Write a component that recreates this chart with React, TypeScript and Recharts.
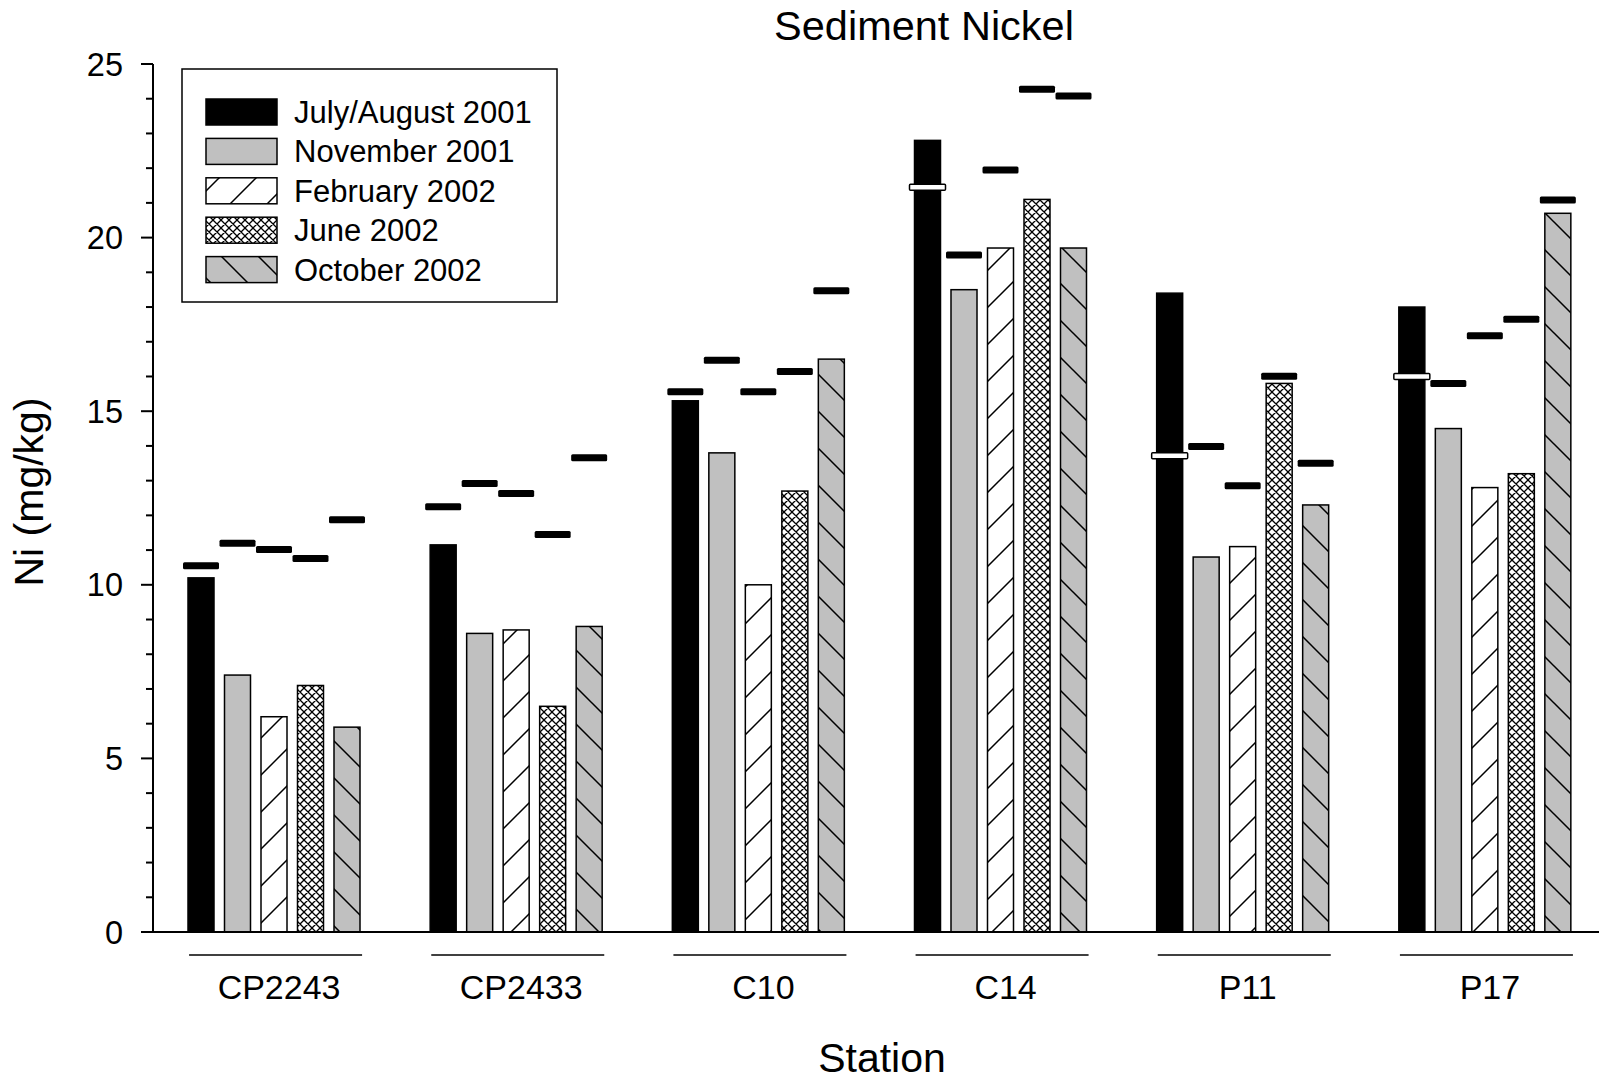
import React from 'react';
import { BarChart, Bar, XAxis, YAxis, Legend } from 'recharts';

const stations = ['CP2243', 'CP2433', 'C10', 'C14', 'P11', 'P17'];
const seriesNames = ['July/August 2001', 'November 2001', 'February 2002', 'June 2002', 'October 2002'];

const julAug2001 = [10.2, 11.15, 15.3, 22.8, 18.4, 18.0];
const nov2001 = [7.4, 8.6, 13.8, 18.5, 10.8, 14.5];
const feb2002 = [6.2, 8.7, 10.0, 19.7, 11.1, 12.8];
const jun2002 = [7.1, 6.5, 12.7, 21.1, 15.8, 13.2];
const oct2002 = [5.9, 8.8, 16.5, 19.7, 12.3, 20.7];

const julAug2001Marker = [10.55, 12.25, 15.56, 21.45, 13.72, 16.0];
const nov2001Marker = [11.2, 12.92, 16.47, 19.5, 13.98, 15.8];
const feb2002Marker = [11.02, 12.63, 15.56, 21.95, 12.85, 17.17];
const jun2002Marker = [10.76, 11.45, 16.14, 24.27, 16.01, 17.65];
const oct2002Marker = [11.87, 13.66, 18.47, 24.08, 13.5, 21.08];

const yTicks = [0, 1, 2, 3, 4, 5, 6, 7, 8, 9, 10, 11, 12, 13, 14, 15, 16, 17, 18, 19, 20, 21, 22, 23, 24, 25];
const yMajorTicks = [0, 5, 10, 15, 20, 25];

const title = 'Sediment Nickel';
const xTitle = 'Station';
const yTitle = 'Ni (mg/kg)';

const FONT = '"Liberation Sans", Arial, Helvetica, sans-serif';

const data = stations.map((s, i) => ({
  station: s,
  jul: julAug2001[i],
  julM: julAug2001Marker[i],
  nov: nov2001[i],
  novM: nov2001Marker[i],
  feb: feb2002[i],
  febM: feb2002Marker[i],
  jun: jun2002[i],
  junM: jun2002Marker[i],
  oct: oct2002[i],
  octM: oct2002Marker[i],
}));

const series = [
  { key: 'jul', mkey: 'julM', name: seriesNames[0], fill: '#000000', dark: true },
  { key: 'nov', mkey: 'novM', name: seriesNames[1], fill: '#c0c0c0', dark: false },
  { key: 'feb', mkey: 'febM', name: seriesNames[2], fill: 'url(#patFeb)', dark: false },
  { key: 'jun', mkey: 'junM', name: seriesNames[3], fill: 'url(#patJun)', dark: false },
  { key: 'oct', mkey: 'octM', name: seriesNames[4], fill: 'url(#patOct)', dark: false },
];

const makeShape = (key: string, mkey: string, fill: string, dark: boolean) => (props: any) => {
  const { x, y, width, height, payload } = props;
  const v = payload[key];
  const m = payload[mkey];
  const base = y + height;
  const perUnit = height / v;
  const my = base - m * perUnit;
  const cx = x + width / 2;
  const inside = dark && m < v;
  return (
    <g>
      <rect x={x} y={y} width={width} height={height} fill={fill} stroke="#000" strokeWidth={1.5} />
      {inside ? (
        <rect x={cx - 18} y={my - 3} width={36} height={6} rx={1} fill="#fff" stroke="#000" strokeWidth={1.5} />
      ) : (
        <rect x={cx - 18} y={my - 3.5} width={36} height={7} rx={1.5} fill="#000" />
      )}
    </g>
  );
};

const XTick = (props: any) => {
  const { x, y, payload } = props;
  return (
    <g>
      <line x1={x - 85} x2={x + 88} y1={y + 23} y2={y + 23} stroke="#000" strokeWidth={1.6} />
      <text x={x + 5} y={y + 67} textAnchor="middle" fontSize={34} fontFamily={FONT} fill="#000">
        {payload.value}
      </text>
    </g>
  );
};

const YTick = (props: any) => {
  const { x, y, payload } = props;
  const v = payload.value;
  const major = yMajorTicks.includes(v);
  return (
    <g>
      <line x1={x - (major ? 12 : 7)} x2={x} y1={y} y2={y} stroke="#000" strokeWidth={2} />
      {major && (
        <text x={x - 30} y={y + 11.5} textAnchor="end" fontSize={32.5} fontFamily={FONT} fill="#000">
          {v}
        </text>
      )}
    </g>
  );
};

const XLabel = (props: any) => {
  const vb = props.viewBox;
  return (
    <text x={vb.x + vb.width / 2 + 2.5} y={vb.y + 140} textAnchor="middle" fontSize={41} fontFamily={FONT} fill="#000">
      {xTitle}
    </text>
  );
};

const YLabel = (props: any) => {
  const vb = props.viewBox;
  const cx = vb.x + 43;
  const cy = vb.y + vb.height / 2 - 6;
  return (
    <text x={cx} y={cy} textAnchor="middle" fontSize={41} fontFamily={FONT} fill="#000" transform={`rotate(-90, ${cx}, ${cy})`}>
      {yTitle}
    </text>
  );
};

const LegendBox = () => (
  <svg width={378} height={236} style={{ display: 'block', overflow: 'visible' }}>
    <rect x={1} y={1} width={375} height={233} fill="#fff" stroke="#000" strokeWidth={1.5} />
    {series.map((s, i) => {
      const cy = 44 + i * 39.4;
      return (
        <g key={s.key}>
          <rect x={25} y={cy - 13} width={71} height={26} fill={s.fill} stroke="#000" strokeWidth={1.5} />
          <text x={113} y={cy + 11} fontSize={31} fontFamily={FONT} fill="#000">
            {s.name}
          </text>
        </g>
      );
    })}
  </svg>
);

export default function App() {
  return (
    <div style={{ position: 'relative', width: 1599, height: 1080, overflow: 'hidden', fontFamily: FONT, background: '#fff' }}>
      <style>{'body{margin:0}'}</style>
      <BarChart
        width={1610}
        height={1080}
        data={data}
        margin={{ top: 64, right: 4, bottom: 0, left: 0 }}
        barCategoryGap={35}
        barGap={10.5}
      >
        <defs>
          <pattern id="patFeb" patternUnits="userSpaceOnUse" width={37} height={37}>
            <rect x={0} y={0} width={37} height={37} fill="#fff" />
            <path d="M0,37 L37,0 M-4,4 L4,-4 M33,41 L41,33" stroke="#000" strokeWidth={1.5} />
          </pattern>
          <pattern id="patJun" patternUnits="userSpaceOnUse" width={8} height={8}>
            <rect x={0} y={0} width={8} height={8} fill="#fff" />
            <path d="M0,0 L8,8 M8,0 L0,8 M-1,1 L1,-1 M7,9 L9,7 M-1,7 L1,9 M7,-1 L9,1" stroke="#000" strokeWidth={1.3} />
          </pattern>
          <pattern id="patOct" patternUnits="userSpaceOnUse" width={37} height={37}>
            <rect x={0} y={0} width={37} height={37} fill="#c0c0c0" />
            <path d="M0,0 L37,37 M-4,33 L4,41 M33,-4 L41,4" stroke="#000" strokeWidth={1.5} />
          </pattern>
        </defs>
        <XAxis
          dataKey="station"
          interval={0}
          tickLine={false}
          tickSize={0}
          tickMargin={0}
          height={148}
          axisLine={{ stroke: '#000', strokeWidth: 2 }}
          tick={(p: any) => <XTick {...p} />}
          label={(p: any) => <XLabel {...p} />}
        />
        <YAxis
          type="number"
          domain={[0, 25]}
          ticks={yTicks}
          interval={0}
          width={153}
          tickLine={false}
          tickSize={0}
          tickMargin={0}
          axisLine={{ stroke: '#000', strokeWidth: 2 }}
          tick={(p: any) => <YTick {...p} />}
          label={(p: any) => <YLabel {...p} />}
        />
        <Legend
          layout="vertical"
          align="center"
          verticalAlign="middle"
          wrapperStyle={{ left: 181, top: 68, width: 378, height: 236 }}
          content={() => <LegendBox />}
        />
        {series.map((s) => (
          <Bar
            key={s.key}
            dataKey={s.key}
            name={s.name}
            fill={s.fill}
            isAnimationActive={false}
            shape={makeShape(s.key, s.mkey, s.fill, s.dark)}
          />
        ))}
      </BarChart>
      <svg width={1599} height={60} style={{ position: 'absolute', left: 0, top: 0, pointerEvents: 'none' }}>
        <text x={924} y={40} textAnchor="middle" fontSize={41.5} fontFamily={FONT} fill="#000">
          {title}
        </text>
      </svg>
    </div>
  );
}
